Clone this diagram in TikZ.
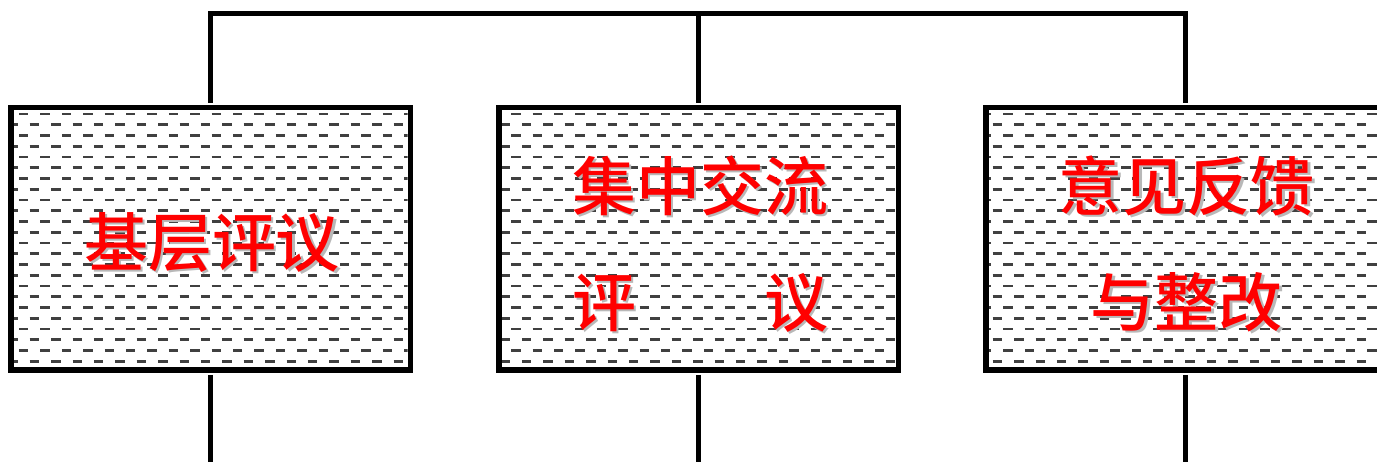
\documentclass[tikz,border=0pt]{standalone}
\usepackage{fontspec}
\newfontfamily\cjk{Noto Sans CJK SC Medium}
\definecolor{dashgray}{HTML}{404040}
\definecolor{shadowgray}{HTML}{B8B8B8}
\newcommand\shtext[1]{\makebox[0pt][l]{\hspace{2.5pt}\raisebox{-2.5pt}{\textcolor{shadowgray}{#1}}}#1}
\begin{document}
\begin{tikzpicture}[x=1pt,y=-1pt,
  box/.style={draw=black,line width=5.5pt,minimum width=399.5pt,minimum height=262.5pt,inner sep=0pt},
  conn/.style={draw=black,line width=4.5pt,line join=miter},
  dashrow/.style={draw=dashgray,line width=2.6pt,dash pattern=on 9.4pt off 12pt},
  lbl/.style={font=\cjk\fontsize{64}{116}\selectfont,text=red,align=center,inner sep=0pt}]
\useasboundingbox (0,0) rectangle (1377,462);
% pattern fill
\begin{scope}
\clip (13.5,110.75) rectangle (407.5,367.25) (501.5,110.75) rectangle (895.5,367.25) (988.5,110.75) rectangle (1390,367.25);
\foreach \k in {0,...,24} {
  \pgfmathsetmacro\yy{114+10.75*\k}
  \pgfmathsetmacro\xs{ifthenelse(mod(\k,2)==1,-13.1,-23.8)}
  \draw[dashrow] (\xs,\yy) -- (1400,\yy);
}
\end{scope}
% boxes
\node[box] (a) at (210.5,239) {};
\node[box] (b) at (698.5,239) {};
\node[box] (c) at (1185.5,239) {};
% connectors
\coordinate (ta) at (210.5,13.5);
\coordinate (tb) at (698.5,13.5);
\coordinate (tc) at (1185.5,13.5);
\coordinate (ba) at (210.5,462);
\coordinate (bb) at (698.5,462);
\coordinate (bc) at (1185.5,462);
\draw[conn] ([yshift=2pt]a.north) -- (ta) -- (tc) -- ([yshift=2pt]c.north);
\draw[conn] (tb) -- ([yshift=2pt]b.north);
\draw[conn] ([yshift=-2pt]a.south) -- (ba);
\draw[conn] ([yshift=-2pt]b.south) -- (bb);
\draw[conn] ([yshift=-2pt]c.south) -- (bc);
% labels
\node[lbl] (la) at (212,243.5) {\shtext{基层评议}};
\node[lbl] (lb) at (700,245) {\shtext{集中交流}\\\shtext{评　　议}};
\node[lbl] (lc) at (1186.5,245) {\shtext{意见反馈}\\\shtext{与整改}};
\end{tikzpicture}
\end{document}
